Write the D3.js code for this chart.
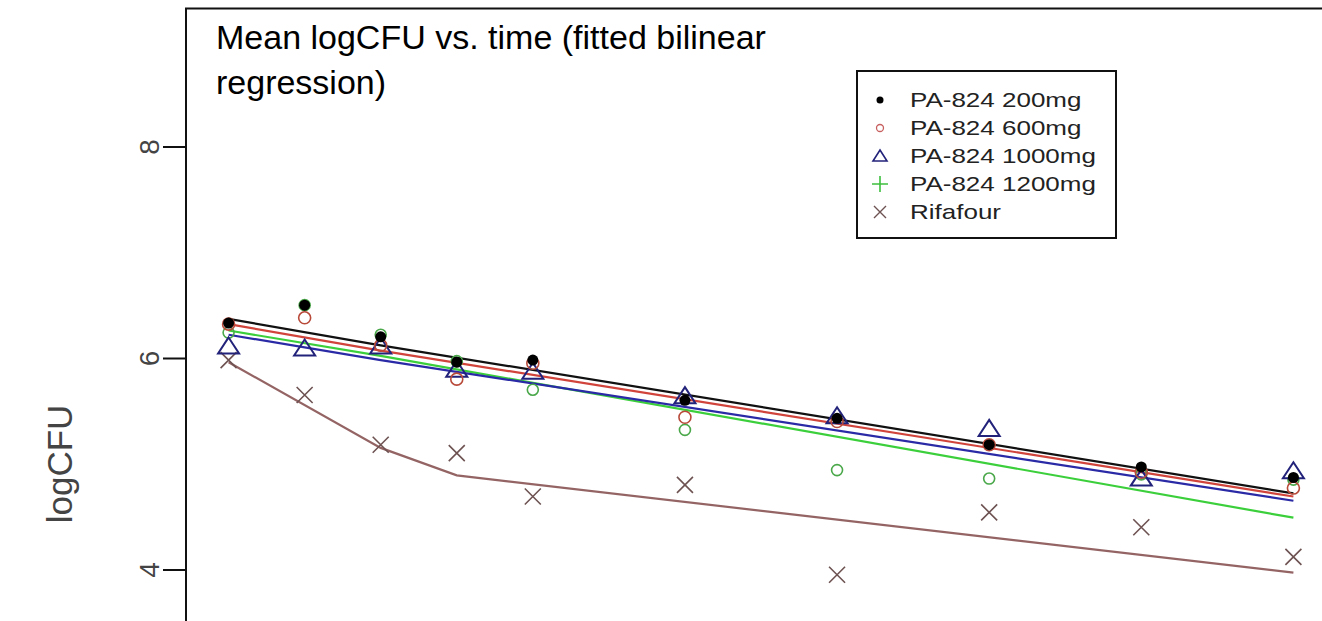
<!DOCTYPE html>
<html>
<head>
<meta charset="utf-8">
<script src="https://cdn.jsdelivr.net/npm/d3@7"></script>
<style>
  body { margin: 0; background: #fff; }
  svg { display: block; font-family: "Liberation Sans", Arial, sans-serif; }
</style>
</head>
<body>
<svg width="1322" height="621"></svg>
<script>
// sampling days
const times = [0, 1, 2, 3, 4, 6, 8, 10, 12, 14];

// mean logCFU per group
const pa200  = [6.33, 6.50, 6.20, 5.96, 5.98, 5.60, 5.43, 5.18, 4.97, 4.87];
const pa600  = [6.32, 6.38, 6.12, 5.80, 5.95, 5.44, 5.40, 5.18, 4.92, 4.77];
const pa1000 = [6.10, 6.08, 6.10, 5.88, 5.86, 5.63, 5.44, 5.32, 4.85, 4.92];
const pa1200 = [6.24, 6.50, 6.22, 5.97, 5.70, 5.32, 4.94, 4.86, 4.90, 4.85];
const rifa   = [5.98, 5.65, 5.18, 5.10, 4.69, 4.80, 3.95, 4.54, 4.40, 4.12];

// fitted bilinear regression vertices [day, logCFU]
const fit200  = [[0, 6.37], [2, 6.12], [14, 4.72]];
const fit600  = [[0, 6.32], [2, 6.07], [14, 4.69]];
const fit1000 = [[0, 6.22], [2, 5.98], [14, 4.65]];
const fit1200 = [[0, 6.26], [2, 6.02], [14, 4.49]];
const fitRifa = [[0, 5.96], [2, 5.15], [3, 4.89], [14, 3.97]];

const legendLabels = ['PA-824 200mg', 'PA-824 600mg', 'PA-824 1000mg', 'PA-824 1200mg', 'Rifafour'];
const yTicks = [4, 6, 8];

const svg = d3.select('svg');
const margin = {top: 8.5, left: 186};

const x = d3.scaleLinear().domain([-0.56, 14.56]).range([margin.left, 1336]);
const y = d3.scaleLinear().domain([4, 8]).range([569.5, 146.5]);

const series = [
  {vals: pa200,  fit: fit200,  line: '#111111', col: '#000000', pch: 'dot'},
  {vals: pa600,  fit: fit600,  line: '#d0443c', col: '#b84a3a', pch: 'circle'},
  {vals: pa1000, fit: fit1000, line: '#2a2aa6', col: '#22227a', pch: 'tri'},
  {vals: pa1200, fit: fit1200, line: '#3ccf3c', col: '#4aa84a', pch: 'ring'},
  {vals: rifa,   fit: fitRifa, line: '#946464', col: '#6e5252', pch: 'cross'}
];

// plot box
svg.append('rect')
  .attr('x', margin.left).attr('y', margin.top)
  .attr('width', 1336 - margin.left).attr('height', 700)
  .attr('fill', 'none').attr('stroke', '#111').attr('stroke-width', 2);

// y axis
const yAxis = svg.append('g')
  .attr('transform', `translate(${margin.left},0)`)
  .call(d3.axisLeft(y).tickValues(yTicks).tickSize(23).tickFormat(d3.format('d')));
yAxis.select('.domain').remove();
yAxis.selectAll('line').attr('stroke', '#111').attr('stroke-width', 2);
yAxis.selectAll('text')
  .attr('transform', 'rotate(-90)')
  .attr('x', 0).attr('y', -27).attr('dy', 0)
  .attr('text-anchor', 'middle')
  .attr('font-size', 28)
  .attr('fill', '#444');

svg.append('text')
  .attr('transform', 'translate(72,464) rotate(-90)')
  .attr('text-anchor', 'middle')
  .attr('font-size', 35)
  .attr('fill', '#444')
  .text('logCFU');

// fitted lines
const line = d3.line().x(d => x(d[0])).y(d => y(d[1]));
[4, 3, 2, 1, 0].forEach(i => {
  svg.append('path')
    .attr('d', line(series[i].fit))
    .attr('fill', 'none')
    .attr('stroke', series[i].line)
    .attr('stroke-width', 2.2);
});

// marker drawing
function marker(g, type, col, cx, cy) {
  if (type === 'dot') {
    g.append('circle').attr('cx', cx).attr('cy', cy).attr('r', 5.5).attr('fill', col);
  } else if (type === 'circle') {
    g.append('circle').attr('cx', cx).attr('cy', cy).attr('r', 6).attr('fill', 'none')
      .attr('stroke', col).attr('stroke-width', 1.6);
  } else if (type === 'ring') {
    g.append('circle').attr('cx', cx).attr('cy', cy).attr('r', 5.5).attr('fill', 'none')
      .attr('stroke', col).attr('stroke-width', 1.6);
  } else if (type === 'plus') {
    g.append('path').attr('d', `M${cx - 8},${cy}H${cx + 8}M${cx},${cy - 8}V${cy + 8}`)
      .attr('stroke', col).attr('stroke-width', 1.6);
  } else if (type === 'tri') {
    const s = 10;
    g.append('path').attr('d', `M${cx},${cy - s}L${cx + s * 1.05},${cy + s * 0.6}L${cx - s * 1.05},${cy + s * 0.6}Z`)
      .attr('fill', 'none').attr('stroke', col).attr('stroke-width', 2);
  } else if (type === 'cross') {
    const s = 8;
    g.append('path').attr('d', `M${cx - s},${cy - s}L${cx + s},${cy + s}M${cx - s},${cy + s}L${cx + s},${cy - s}`)
      .attr('stroke', col).attr('stroke-width', 1.6);
  }
}

const pts = svg.append('g');
[4, 3, 2, 1, 0].forEach(i => {
  const s = series[i];
  s.vals.forEach((v, j) => marker(pts, s.pch, s.col, x(times[j]), y(v)));
});

// title
svg.append('text').attr('x', 216).attr('y', 49).attr('font-size', 34)
  .text('Mean logCFU vs. time (fitted bilinear');
svg.append('text').attr('x', 216).attr('y', 94).attr('font-size', 34)
  .text('regression)');

// legend
const lg = svg.append('g');
lg.append('rect').attr('x', 857).attr('y', 71).attr('width', 259).attr('height', 167)
  .attr('fill', '#fff').attr('stroke', '#111').attr('stroke-width', 2);
const legendPch = ['dot', 'circle', 'tri', 'plus', 'cross'];
const legendCol = ['#000000', '#c86060', '#22227a', '#3cbf3c', '#6e5252'];
legendLabels.forEach((lab, i) => {
  const cy = 100 + i * 28;
  if (legendPch[i] === 'dot') {
    lg.append('circle').attr('cx', 880).attr('cy', cy).attr('r', 3.5).attr('fill', '#000');
  } else if (legendPch[i] === 'circle') {
    lg.append('circle').attr('cx', 880).attr('cy', cy).attr('r', 3.5).attr('fill', 'none')
      .attr('stroke', legendCol[i]).attr('stroke-width', 1.3);
  } else if (legendPch[i] === 'tri') {
    lg.append('path').attr('d', `M880,${cy - 6}L887,${cy + 5}L873,${cy + 5}Z`)
      .attr('fill', 'none').attr('stroke', legendCol[i]).attr('stroke-width', 1.6);
  } else if (legendPch[i] === 'plus') {
    marker(lg, 'plus', legendCol[i], 880, cy);
  } else {
    const s = 6;
    lg.append('path').attr('d', `M${880 - s},${cy - s}L${880 + s},${cy + s}M${880 - s},${cy + s}L${880 + s},${cy - s}`)
      .attr('stroke', legendCol[i]).attr('stroke-width', 1.4);
  }
  lg.append('text')
    .attr('transform', `translate(910,${cy + 7}) scale(1.3,1)`)
    .attr('font-size', 20)
    .attr('fill', '#222').text(lab);
});
</script>
</body>
</html>
